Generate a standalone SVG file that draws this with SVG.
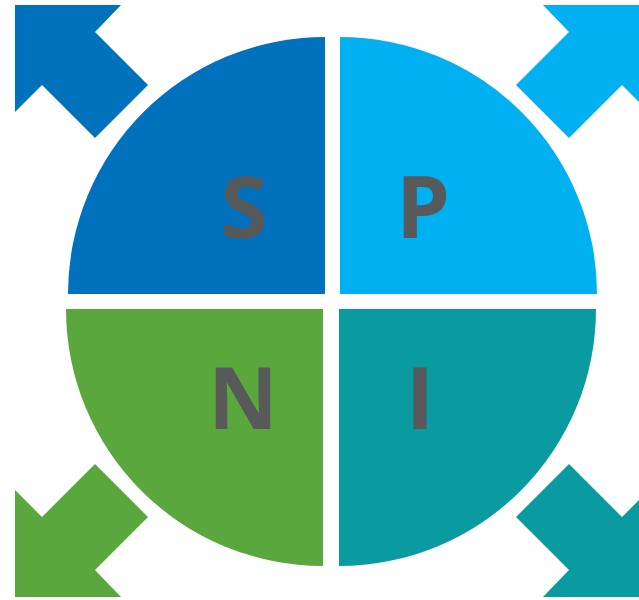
<svg xmlns="http://www.w3.org/2000/svg" width="639" height="600" viewBox="0 0 639 600">
  <style>
    .letter { font-family: "Open Sans", "Noto Sans", "Liberation Sans", sans-serif; font-weight: 700; font-size: 86px; fill: #58595b; text-anchor: middle; }
    .s { fill: #0071bd; }
    .p { fill: #00b0f0; }
    .n { fill: #5aa83d; }
    .i { fill: #099b9f; }
  </style>
  <rect width="639" height="600" fill="#ffffff"/>

  <!-- outward corner arrows -->
  <g id="arrows">
    <path class="s" d="M15,5 H121 L95,32 L148,85 L95,138 L42,85 L15,112 Z"/>
    <path class="p" d="M649,5 H543 L569,32 L516,85 L569,138 L622,85 L649,112 Z"/>
    <path class="n" d="M15,597 H121 L95,570 L148,517 L95,464 L42,517 L15,490 Z"/>
    <path class="i" d="M649,597 H543 L569,570 L516,517 L569,464 L622,517 L649,490 Z"/>
  </g>

  <!-- four quarter-circle segments -->
  <g id="node-s">
    <path class="s" d="M325,294 H68 A257,257 0 0 1 325,37 Z"/>
    <text class="letter" x="244" y="238">S</text>
  </g>
  <g id="node-p">
    <path class="p" d="M340,294 V37 A257,257 0 0 1 597,294 Z"/>
    <text class="letter" x="423" y="238">P</text>
  </g>
  <g id="node-n">
    <path class="n" d="M323,309 V566 A257,257 0 0 1 66,309 Z"/>
    <text class="letter" x="243" y="429">N</text>
  </g>
  <g id="node-i">
    <path class="i" d="M339,309 H596 A257,257 0 0 1 339,566 Z"/>
    <text class="letter" x="420" y="429">I</text>
  </g>
</svg>
